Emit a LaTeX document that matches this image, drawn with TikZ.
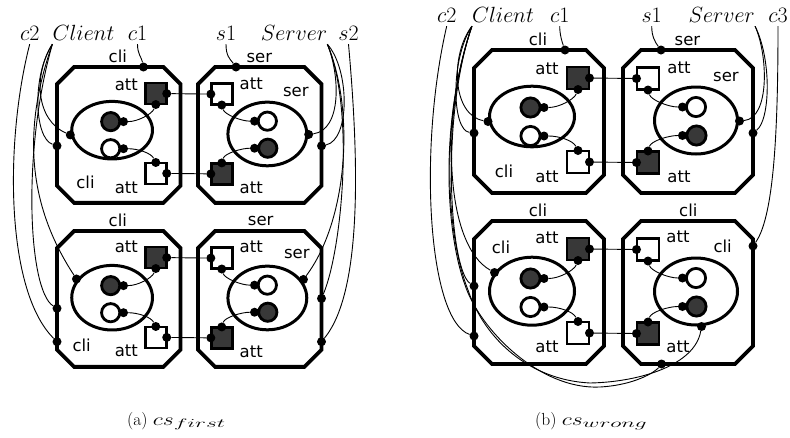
\RequirePackage{fix-cm}
\documentclass[tikz,border=0pt]{standalone}
\usepackage{fontspec}
\newfontfamily\dejavu{DejaVu Sans}
\definecolor{dk}{gray}{0.22}
\newcommand\octo{\draw[boxline] (18,0)--(112,0)--(130,18)--(130,125)--(112,143)--(18,143)--(0,125)--(0,18)--cycle;}
\newcommand\cliparts[3]{%
 \draw[ell] (58,#2) ellipse [x radius=42.5, y radius=#3];
 \draw[circs,fill=dk] (56.5,57.5) circle [radius=9.6];
 \draw[circs,fill=white] (56.5,86) circle [radius=9.6];
 \draw[sqs,fill=dk] (93,17) rectangle (115,39);
 \draw[sqs,fill=white] (93,101) rectangle (115,123);
 \node[port] (#1dcp) at (70,57.5) {};
 \node[port] (#1wcp) at (70,86) {};
 \node[port] (#1dsr) at (115.5,28) {};
 \node[port] (#1dsb) at (104,39.5) {};
 \node[port] (#1wst) at (104,100.5) {};
 \node[port] (#1wsr) at (115.5,112) {};
 \draw[wire] (#1dcp) .. controls +(15,0) and +(-4,10) .. (#1dsb);
 \draw[wire] (#1wcp) .. controls +(15,0) and +(-5,-10) .. (#1wst);
}
\newcommand\serparts[1]{%
 \draw[ell] (73,70.5) ellipse [x radius=41.5, y radius=33.5];
 \draw[circs,fill=white] (73,57) circle [radius=9.6];
 \draw[circs,fill=dk] (73.5,85.5) circle [radius=9.6];
 \draw[sqs,fill=white] (14,17.5) rectangle (36,39.5);
 \draw[sqs,fill=dk] (14,101.5) rectangle (36,123.5);
 \node[port] (#1wcp) at (59.5,57) {};
 \node[port] (#1dcp) at (59.5,85.5) {};
 \node[port] (#1wsl) at (13.5,28.5) {};
 \node[port] (#1wsb) at (25,40) {};
 \node[port] (#1dst) at (25,101) {};
 \node[port] (#1dsl) at (13.5,112.5) {};
 \draw[wire] (#1wsb) .. controls +(3,10) and +(-14,0) .. (#1wcp);
 \draw[wire] (#1dst) .. controls +(3,-10) and +(-14,0) .. (#1dcp);
}
\newcommand\capmath[2]{$\scalebox{1.35}[1]{$#1$}_{\scalebox{1.9}[1]{$\scriptstyle #2$}}$}
\begin{document}
\begin{tikzpicture}[x=1pt,y=-1pt,
  boxline/.style={line width=3.8pt,line join=miter},
  ell/.style={line width=3pt},
  sqs/.style={line width=2.6pt},
  circs/.style={line width=2.8pt},
  port/.style={circle,fill=black,inner sep=0pt,minimum size=9pt},
  wire/.style={line width=0.9pt},
  lab/.style={font=\dejavu\fontsize{16.5}{18}\selectfont,inner sep=0pt},
  role/.style={font=\fontsize{22}{26}\selectfont,anchor=base,inner xsep=0pt,inner ysep=4pt},
  captext/.style={font=\fontsize{17.5}{20}\selectfont,inner sep=0pt,anchor=base west}]
\useasboundingbox (0,0) rectangle (790,437);

% ---------- panel (a) ----------
\begin{scope}[shift={(57,67)},scale=0.95]
 \octo \cliparts{aul}{66.5}{30.3}
 \node[port] (aulT) at (91,0) {};
 \node[port] (aulE) at (14,71.5) {};
 \node[port] (aulL) at (0,83) {};
 \node[lab] (aul1) at (64,-11) {cli};
 \node[lab] (aul2) at (73,18.5) {att};
 \node[lab] (aul3) at (30,121.5) {cli};
 \node[lab] (aul4) at (73,127) {att};
\end{scope}
\begin{scope}[shift={(57,231)},scale=0.95]
 \octo \cliparts{all}{70.2}{34}
 \node[port] (allE) at (20.5,50.5) {};
 \node[port] (allL1) at (0,81.4) {};
 \node[port] (allL2) at (0,116.5) {};
 \node[lab] (all1) at (64,-11.5) {cli};
 \node[lab] (all2) at (73,17) {att};
 \node[lab] (all3) at (26,120) {cli};
 \node[lab] (all4) at (73,126.5) {att};
\end{scope}
\begin{scope}[shift={(198,67)},scale=0.95]
 \octo \serparts{aur}
 \node[port] (aurT) at (40,0) {};
 \node[port] (aurE) at (116.5,71) {};
 \node[port] (aurR) at (130,83) {};
 \node[lab] (aur1) at (64.5,-9) {ser};
 \node[lab] (aur2) at (56,17.5) {att};
 \node[lab] (aur3) at (103,26.5) {ser};
 \node[lab] (aur4) at (56,127) {att};
\end{scope}
\begin{scope}[shift={(198,231)},scale=0.95]
 \octo \serparts{alr}
 \node[port] (alrE) at (111,51) {};
 \node[port] (alrR1) at (130,71) {};
 \node[port] (alrR2) at (130,116.5) {};
 \node[lab] (alr1) at (66,-10.5) {ser};
 \node[lab] (alr2) at (56,16.5) {att};
 \node[lab] (alr3) at (104,24.5) {ser};
 \node[lab] (alr4) at (56,127) {att};
\end{scope}

\node[role] (ac2) at (29.7,40) {$c2$};
\node[role] (acl) at (83.5,40) {$Client$};
\node[role] (ac1) at (137.5,40) {$c1$};
\node[role] (as1) at (226,40) {$s1$};
\node[role] (asv) at (294,40) {$Server$};
\node[role] (as2) at (348.5,40) {$s2$};

\draw[wire] (auldsr) -- (aurwsl);
\draw[wire] (aulwsr) -- (aurdsl);
\draw[wire] (alldsr) -- (alrwsl);
\draw[wire] (allwsr) -- (alrdsl);

\draw[wire] (ac1.south) .. controls +(0,10) and +(-2,-10) .. (aulT);
\draw[wire] (as1.south) .. controls +(0,12) and +(-6,-8) .. (aurT);
\draw[wire] (acl.south west) .. controls (33,75) and (36,120) .. (aulE);
\draw[wire] (acl.south west) .. controls (32,75) and (34,138) .. (aulL);
\draw[wire] (acl.south west) .. controls (22,130) and (28,205) .. (allE);
\draw[wire] (acl.south west) .. controls (22,150) and (28,290) .. (allL1);
\draw[wire] (ac2.south) .. controls (5,140) and (5,290) .. (allL2);
\draw[wire] (asv.south east) .. controls (340,75) and (342,130) .. (aurE);
\draw[wire] (asv.south east) .. controls (350,70) and (350,140) .. (aurR);
\draw[wire] (asv.south east) .. controls (355,110) and (348,220) .. (alrE);
\draw[wire] (asv.south east) .. controls (355,110) and (342,250) .. (alrR1);
\draw[wire] (as2.south) .. controls (358,150) and (364,290) .. (alrR2);

% ---------- panel (b) ----------
\begin{scope}[shift={(474,50)}]
 \octo \cliparts{bul}{66.5}{30.3}
 \node[port] (bulT) at (91,0) {};
 \node[port] (bulE) at (14,71.5) {};
 \node[port] (bulL) at (0,83) {};
 \node[lab] (bul1) at (64,-11) {cli};
 \node[lab] (bul2) at (73,18.5) {att};
 \node[lab] (bul3) at (30,121.5) {cli};
 \node[lab] (bul4) at (73,127) {att};
\end{scope}
\begin{scope}[shift={(474,221)}]
 \octo \cliparts{bll}{70.2}{34}
 \node[port] (bllE) at (20.5,51.5) {};
 \node[port] (bllL1) at (0,65) {};
 \node[port] (bllL2) at (0,115) {};
 \node[lab] (bll1) at (64,-11) {cli};
 \node[lab] (bll2) at (27,26) {cli};
 \node[lab] (bll3) at (73,17) {att};
 \node[lab] (bll4) at (73,126) {att};
\end{scope}
\begin{scope}[shift={(623,50)}]
 \octo \serparts{bur}
 \node[port] (burT) at (38,0) {};
 \node[port] (burE) at (116.5,71) {};
 \node[port] (burR) at (130,83) {};
 \node[lab] (bur1) at (64.5,-9) {ser};
 \node[lab] (bur2) at (56,17.5) {att};
 \node[lab] (bur3) at (103,26.5) {ser};
 \node[lab] (bur4) at (56,127) {att};
\end{scope}
\begin{scope}[shift={(623,221)}]
 \octo \serparts{blr}
 \node[port] (blrR) at (130,25) {};
 \node[port] (blrE) at (78.5,105.5) {};
 \node[port] (blrB) at (38.5,143) {};
 \node[lab] (blr1) at (65.3,-11) {cli};
 \node[lab] (blr2) at (55,15.7) {att};
 \node[lab] (blr3) at (99.7,25.7) {cli};
 \node[lab] (blr4) at (55,125.7) {att};
\end{scope}

\node[role] (bc2) at (446.7,22) {$c2$};
\node[role] (bcl) at (503,22) {$Client$};
\node[role] (bc1) at (559.7,22) {$c1$};
\node[role] (bs1) at (651.7,22) {$s1$};
\node[role] (bsv) at (721.7,22) {$Server$};
\node[role] (bc3) at (778,22) {$c3$};

\draw[wire] (buldsr) -- (burwsl);
\draw[wire] (bulwsr) -- (burdsl);
\draw[wire] (blldsr) -- (blrwsl);
\draw[wire] (bllwsr) -- (blrdsl);

\draw[wire] (bc1.south) .. controls +(0,8) and +(-3,-8) .. (bulT);
\draw[wire] (bs1.south) .. controls +(0,10) and +(-6,-8) .. (burT);
\draw[wire] (bcl.south west) .. controls (450,55) and (452,115) .. (bulE);
\draw[wire] (bcl.south west) .. controls (450,60) and (452,130) .. (bulL);
\draw[wire] (bcl.south west) .. controls (440,120) and (445,245) .. (bllE);
\draw[wire] (bcl.south west) .. controls (440,120) and (450,270) .. (bllL1);
\draw[wire] (bc2.south) .. controls (418,150) and (428,320) .. (bllL2);
\draw[wire] (bcl.south west) .. controls (440,120) and (445,230) .. (465,285)
   .. controls (480,330) and (540,390) .. (600,387)
   .. controls (635,385) and (655,372) .. (blrB);
\draw[wire] (bcl.south west) .. controls (440,120) and (446,235) .. (468,290)
   .. controls (485,340) and (530,380) .. (590,383)
   .. controls (640,382) and (695,365) .. (blrE);
\draw[wire] (bsv.south east) .. controls (768,55) and (770,118) .. (burE);
\draw[wire] (bsv.south east) .. controls (772,60) and (770,120) .. (burR);
\draw[wire] (bc3.south) .. controls (778,120) and (775,215) .. (blrR);

% ---------- captions ----------
\node[captext] (capa) at (127,425) {(a) \capmath{cs}{first}};
\node[captext] (capb) at (535,425) {(b) \capmath{cs}{wrong}};
\end{tikzpicture}
\end{document}
